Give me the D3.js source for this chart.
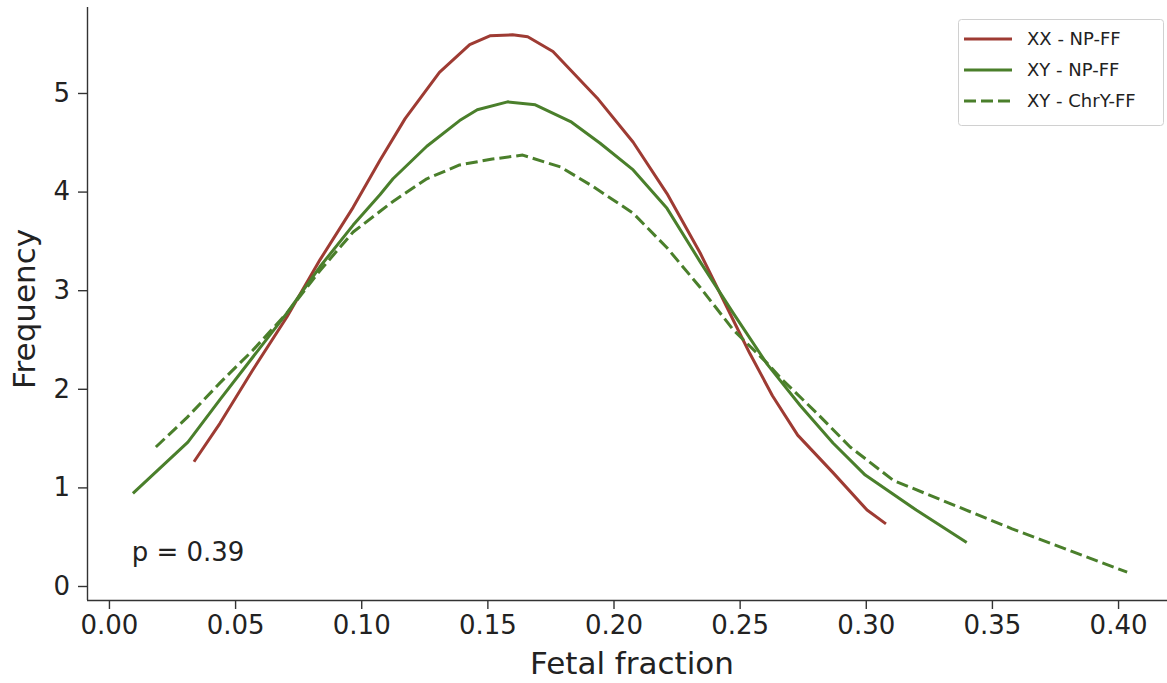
<!DOCTYPE html>
<html>
<head>
<meta charset="utf-8">
<script src="https://cdn.jsdelivr.net/npm/d3@7"></script>
<style>
  html, body { margin: 0; padding: 0; background: #fff; }
  svg text { font-family: "DejaVu Sans", sans-serif; fill: #222; }
</style>
</head>
<body>
<svg id="chart" width="1167" height="683"></svg>
<script>
// ---- data ----
const xxX = [0.0337,0.044,0.057,0.0706,0.0837,0.0968,0.1075,0.1174,0.131,0.143,0.151,0.160,0.166,0.176,0.1935,0.2078,0.2212,0.2343,0.2474,0.254,0.263,0.273,0.287,0.3005,0.308];
const xxY = [1.26,1.65,2.19,2.73,3.31,3.84,4.32,4.74,5.21,5.49,5.58,5.59,5.57,5.42,4.95,4.50,3.98,3.38,2.70,2.36,1.93,1.53,1.15,0.77,0.63];

const xyX = [0.0095,0.0313,0.044,0.057,0.0706,0.0837,0.0968,0.1075,0.1126,0.126,0.139,0.146,0.158,0.169,0.183,0.1947,0.2078,0.2212,0.2343,0.2474,0.2609,0.274,0.287,0.2998,0.320,0.340];
const xyY = [0.94,1.46,1.89,2.32,2.77,3.24,3.66,3.97,4.13,4.46,4.72,4.83,4.91,4.88,4.71,4.49,4.22,3.83,3.29,2.77,2.25,1.83,1.45,1.125,0.77,0.44];

const chrX = [0.0186,0.031,0.044,0.057,0.0706,0.0837,0.0968,0.1075,0.1126,0.126,0.139,0.152,0.164,0.179,0.192,0.2078,0.2212,0.2343,0.2474,0.2609,0.267,0.2807,0.2938,0.311,0.358,0.4036];
const chrY = [1.41,1.71,2.06,2.39,2.77,3.20,3.59,3.80,3.90,4.13,4.27,4.33,4.37,4.25,4.05,3.78,3.43,3.03,2.60,2.26,2.09,1.75,1.41,1.07,0.58,0.14];

const seriesNames = ["XX - NP-FF", "XY - NP-FF", "XY - ChrY-FF"];
const xTicks = [0.00,0.05,0.10,0.15,0.20,0.25,0.30,0.35,0.40];
const yTicks = [0,1,2,3,4,5];
const pText = "p = 0.39";

// ---- layout ----
const svg = d3.select("#chart");
const x = d3.scaleLinear().domain([-0.0087, 0.4194]).range([87, 1167]);
const y = d3.scaleLinear().domain([-0.142, 5.872]).range([600, 7]);

const RED = "#9e3b33", GREEN = "#4a7f2b";

const series = [
  {name: seriesNames[0], xs: xxX, ys: xxY, color: RED, dash: null},
  {name: seriesNames[1], xs: xyX, ys: xyY, color: GREEN, dash: null},
  {name: seriesNames[2], xs: chrX, ys: chrY, color: GREEN, dash: "12,5"}
];

const line = d3.line().x(d => x(d[0])).y(d => y(d[1]));

// lines
series.forEach(s => {
  svg.append("path")
    .datum(s.xs.map((v,i) => [v, s.ys[i]]))
    .attr("d", line)
    .attr("fill", "none")
    .attr("stroke", s.color)
    .attr("stroke-width", 3)
    .attr("stroke-linejoin", "round")
    .attr("stroke-dasharray", s.dash);
});

// axes
const xAxis = d3.axisBottom(x).tickValues(xTicks).tickFormat(d3.format(".2f")).tickSize(9).tickPadding(7).tickSizeOuter(0);
const yAxis = d3.axisLeft(y).tickValues(yTicks).tickFormat(d3.format("d")).tickSize(9).tickPadding(8).tickSizeOuter(0);

const gx = svg.append("g").attr("transform", "translate(0,600)").call(xAxis);
const gy = svg.append("g").attr("transform", "translate(87,0)").call(yAxis);
[gx, gy].forEach(g => {
  g.select(".domain").attr("stroke", "#333").attr("stroke-width", 1.4);
  g.selectAll(".tick line").attr("stroke", "#333").attr("stroke-width", 1.4);
  g.selectAll(".tick text").style("font-family", "DejaVu Sans").style("font-size", "26px").attr("fill", "#222");
});
gy.select(".domain").attr("d", "M0.5,600V7");
gx.select(".domain").attr("d", "M87,0.5H1167");

// axis labels
svg.append("text").attr("x", 632).attr("y", 674).attr("text-anchor", "middle")
  .style("font-size", "31px").text("Fetal fraction");
svg.append("text").attr("transform", "translate(35,309) rotate(-90)").attr("text-anchor", "middle")
  .style("font-size", "31px").text("Frequency");

// p value annotation
svg.append("text").attr("x", x(0.009)).attr("y", y(0.25)).style("font-size", "26px").text(pText);

// legend
const lg = svg.append("g").attr("transform", "translate(958,19)");
lg.append("rect").attr("x", 0.5).attr("y", 0.5).attr("width", 205).attr("height", 106)
  .attr("rx", 3).attr("fill", "#fff").attr("stroke", "#d0d0d0").attr("stroke-width", 1);
series.forEach((s, i) => {
  const cy = 20 + i * 31;
  lg.append("line").attr("x1", 6).attr("x2", 54).attr("y1", cy).attr("y2", cy)
    .attr("stroke", s.color).attr("stroke-width", 3).attr("stroke-dasharray", s.dash);
  lg.append("text").attr("x", 69).attr("y", cy + 6).style("font-size", "18px").text(s.name);
});
</script>
</body>
</html>
